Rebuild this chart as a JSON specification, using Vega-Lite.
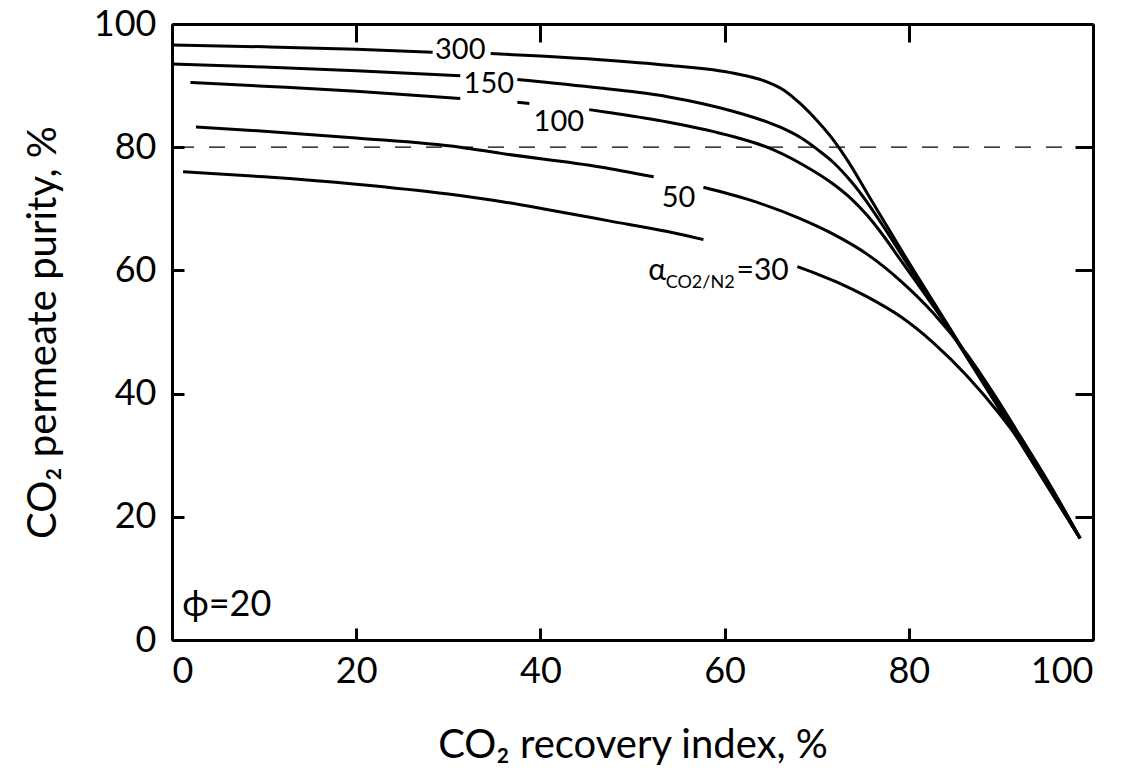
{
  "$schema": "https://vega.github.io/schema/vega-lite/v6.json",
  "width": 921,
  "height": 616,
  "autosize": {"type": "none"},
  "padding": {"left": 172, "top": 24, "right": 36, "bottom": 131},
  "background": "white",
  "config": {
    "view": {"stroke": null},
    "font": "Lato",
    "axis": {
      "grid": false,
      "domainColor": "black",
      "domainWidth": 3,
      "tickColor": "black",
      "tickWidth": 3,
      "labelColor": "black",
      "labelFont": "Lato",
      "labelFontSize": 36,
      "titleFont": "Lato",
      "titleFontSize": 40,
      "titleFontWeight": "normal",
      "titleColor": "black"
    }
  },
  "datasets": {
    "curves": [
      {"s": "300a", "x": 0, "y": 96.6}, {"s": "300a", "x": 10, "y": 96.3}, {"s": "300a", "x": 20, "y": 95.9}, {"s": "300a", "x": 28.3, "y": 95.4},
      {"s": "300b", "x": 34.6, "y": 95.2}, {"s": "300b", "x": 40, "y": 94.8}, {"s": "300b", "x": 46.5, "y": 94.2}, {"s": "300b", "x": 53.8, "y": 93.3}, {"s": "300b", "x": 61, "y": 92.0}, {"s": "300b", "x": 64.6, "y": 90.6}, {"s": "300b", "x": 66.4, "y": 89.3}, {"s": "300b", "x": 68.2, "y": 87.1}, {"s": "300b", "x": 70.1, "y": 84.2}, {"s": "300b", "x": 71.9, "y": 81.0}, {"s": "300b", "x": 73.5, "y": 77.5}, {"s": "300b", "x": 75.5, "y": 72.5}, {"s": "300b", "x": 79.1, "y": 63.5}, {"s": "300b", "x": 85, "y": 49.3}, {"s": "300b", "x": 90, "y": 37.2}, {"s": "300b", "x": 95, "y": 25.2}, {"s": "300b", "x": 98.6, "y": 16.5},
      {"s": "150a", "x": 0, "y": 93.5}, {"s": "150a", "x": 10, "y": 93.0}, {"s": "150a", "x": 20, "y": 92.4}, {"s": "150a", "x": 31.3, "y": 91.6},
      {"s": "150b", "x": 37.5, "y": 91.0}, {"s": "150b", "x": 46.5, "y": 89.6}, {"s": "150b", "x": 53.8, "y": 88.2}, {"s": "150b", "x": 61, "y": 85.8}, {"s": "150b", "x": 64.6, "y": 84.1}, {"s": "150b", "x": 66.4, "y": 83.0}, {"s": "150b", "x": 68.2, "y": 81.6}, {"s": "150b", "x": 70.1, "y": 79.6}, {"s": "150b", "x": 71.9, "y": 77.4}, {"s": "150b", "x": 73.7, "y": 74.5}, {"s": "150b", "x": 75.5, "y": 71.0}, {"s": "150b", "x": 77.3, "y": 67.0}, {"s": "150b", "x": 79.1, "y": 62.8}, {"s": "150b", "x": 85, "y": 49.0}, {"s": "150b", "x": 90, "y": 37.1}, {"s": "150b", "x": 95, "y": 25.1}, {"s": "150b", "x": 98.6, "y": 16.5},
      {"s": "100a", "x": 2, "y": 90.5}, {"s": "100a", "x": 10, "y": 89.9}, {"s": "100a", "x": 20, "y": 89.1}, {"s": "100a", "x": 31.3, "y": 87.9},
      {"s": "100b", "x": 37.5, "y": 87.3}, {"s": "100b", "x": 38.8, "y": 87.1},
      {"s": "100c", "x": 45.3, "y": 86.1}, {"s": "100c", "x": 47.6, "y": 85.6}, {"s": "100c", "x": 53.8, "y": 84.1}, {"s": "100c", "x": 61, "y": 81.7}, {"s": "100c", "x": 64.6, "y": 80.0}, {"s": "100c", "x": 68.2, "y": 77.4}, {"s": "100c", "x": 71.9, "y": 73.9}, {"s": "100c", "x": 73.7, "y": 71.7}, {"s": "100c", "x": 75.5, "y": 68.9}, {"s": "100c", "x": 77.3, "y": 65.5}, {"s": "100c", "x": 79.1, "y": 61.7}, {"s": "100c", "x": 82.7, "y": 54.1}, {"s": "100c", "x": 86.3, "y": 46.2}, {"s": "100c", "x": 90, "y": 37.3}, {"s": "100c", "x": 95, "y": 25.2}, {"s": "100c", "x": 98.6, "y": 16.5},
      {"s": "50a", "x": 2.6, "y": 83.3}, {"s": "50a", "x": 10, "y": 82.6}, {"s": "50a", "x": 20, "y": 81.5}, {"s": "50a", "x": 31.3, "y": 80.0}, {"s": "50a", "x": 35.7, "y": 79.0}, {"s": "50a", "x": 46.5, "y": 76.8}, {"s": "50a", "x": 52.3, "y": 75.2},
      {"s": "50b", "x": 57.7, "y": 73.5}, {"s": "50b", "x": 62.8, "y": 71.4}, {"s": "50b", "x": 68.2, "y": 68.4}, {"s": "50b", "x": 71.9, "y": 65.8}, {"s": "50b", "x": 75.5, "y": 62.6}, {"s": "50b", "x": 79.1, "y": 58.3}, {"s": "50b", "x": 82.7, "y": 53.0}, {"s": "50b", "x": 86.3, "y": 46.4}, {"s": "50b", "x": 89.5, "y": 39.3}, {"s": "50b", "x": 92, "y": 33.3}, {"s": "50b", "x": 95, "y": 26.0}, {"s": "50b", "x": 98.6, "y": 16.5},
      {"s": "30a", "x": 1.2, "y": 76.0}, {"s": "30a", "x": 10, "y": 75.2}, {"s": "30a", "x": 20, "y": 74.0}, {"s": "30a", "x": 30, "y": 72.4}, {"s": "30a", "x": 35.7, "y": 71.2}, {"s": "30a", "x": 41, "y": 69.8}, {"s": "30a", "x": 47.6, "y": 68.0}, {"s": "30a", "x": 53.8, "y": 66.3}, {"s": "30a", "x": 57.7, "y": 65.0},
      {"s": "30b", "x": 67.9, "y": 60.6}, {"s": "30b", "x": 70.4, "y": 59.2}, {"s": "30b", "x": 72.5, "y": 57.9}, {"s": "30b", "x": 75.5, "y": 55.7}, {"s": "30b", "x": 79.1, "y": 52.5}, {"s": "30b", "x": 82.7, "y": 48.2}, {"s": "30b", "x": 86.3, "y": 42.9}, {"s": "30b", "x": 89.9, "y": 36.6}, {"s": "30b", "x": 93.6, "y": 29.0}, {"s": "30b", "x": 96, "y": 23.3}, {"s": "30b", "x": 98.6, "y": 16.5}
    ],
    "labels": [
      {"t": "300", "x": 31.3, "y": 95.7},
      {"t": "150", "x": 34.4, "y": 90.2},
      {"t": "100", "x": 42.0, "y": 84.1},
      {"t": "50", "x": 55.0, "y": 71.8}
    ],
    "alphaMain": [
      {"t": "α", "x": 51.7, "y": 59.9},
      {"t": "=30", "x": 61.3, "y": 59.9}
    ],
    "alphaSub": [
      {"t": "CO2/N2", "x": 53.6, "y": 57.9}
    ],
    "phi": [
      {"t": "ϕ=20", "x": 1.1, "y": 5.7}
    ],
    "ref": [
      {"y": 80}
    ]
  },
  "resolve": {"axis": {"x": "independent", "y": "independent"}},
  "layer": [
    {
      "data": {"name": "ref"},
      "mark": {"type": "rule", "color": "black", "strokeWidth": 1.3, "strokeDash": [16, 15]},
      "encoding": {
        "y": {"field": "y", "type": "quantitative", "scale": {"domain": [0, 100]},
          "axis": {"orient": "right", "values": [0, 20, 40, 60, 80, 100], "labels": false, "tickSize": -18, "title": null}}
      }
    },
    {
      "data": {"name": "curves"},
      "mark": {"type": "line", "color": "black", "strokeWidth": 3, "interpolate": "monotone"},
      "encoding": {
        "x": {"field": "x", "type": "quantitative", "scale": {"domain": [0, 100]},
          "axis": {"orient": "bottom", "values": [0, 20, 40, 60, 80, 100], "tickSize": -12, "labelPadding": 26, "title": "CO₂ recovery index, %", "titlePadding": 36}},
        "y": {"field": "y", "type": "quantitative", "scale": {"domain": [0, 100]},
          "axis": {"orient": "left", "values": [0, 20, 40, 60, 80, 100], "tickSize": -12, "labelPadding": 28, "title": "CO₂ permeate purity, %", "titlePadding": 30}},
        "detail": {"field": "s", "type": "nominal"},
        "order": {"field": "x", "type": "quantitative"}
      }
    },
    {
      "data": {"name": "labels"},
      "mark": {"type": "text", "fontSize": 29, "font": "Lato", "color": "black", "align": "center", "baseline": "middle"},
      "encoding": {
        "x": {"field": "x", "type": "quantitative",
          "axis": {"orient": "top", "values": [0, 20, 40, 60, 80, 100], "labels": false, "tickSize": -18, "title": null}},
        "y": {"field": "y", "type": "quantitative", "axis": null},
        "text": {"field": "t"}
      }
    },
    {
      "data": {"name": "alphaMain"},
      "mark": {"type": "text", "fontSize": 30, "font": "Lato", "color": "black", "align": "left", "baseline": "middle"},
      "encoding": {
        "x": {"field": "x", "type": "quantitative", "axis": null},
        "y": {"field": "y", "type": "quantitative", "axis": null},
        "text": {"field": "t"}
      }
    },
    {
      "data": {"name": "alphaSub"},
      "mark": {"type": "text", "fontSize": 18, "font": "Lato", "color": "black", "align": "left", "baseline": "middle"},
      "encoding": {
        "x": {"field": "x", "type": "quantitative", "axis": null},
        "y": {"field": "y", "type": "quantitative", "axis": null},
        "text": {"field": "t"}
      }
    },
    {
      "data": {"name": "phi"},
      "mark": {"type": "text", "fontSize": 36, "font": "Lato", "color": "black", "align": "left", "baseline": "middle"},
      "encoding": {
        "x": {"field": "x", "type": "quantitative", "axis": null},
        "y": {"field": "y", "type": "quantitative", "axis": null},
        "text": {"field": "t"}
      }
    }
  ]
}
